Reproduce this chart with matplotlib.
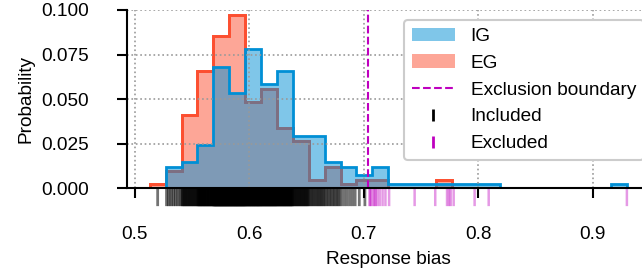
import numpy as np
import matplotlib
matplotlib.use("Agg")
from matplotlib import pyplot as plt
from matplotlib.patches import Patch
from matplotlib.lines import Line2D

plt.rcParams['font.family'] = ['Liberation Sans', 'DejaVu Sans']
plt.rcParams['font.size'] = 13.7

# range of response bias over all participants, split in 30 bins
bias_min = 0.5131
bias_max = 0.9299
n_bins = 30
boundary = 0.7035

# participants per bin (probability * 411 participants)
ig_counts = [0, 5, 6, 10, 28, 22, 32, 24, 27, 12, 12, 6, 5, 3, 5,
             1, 1, 1, 1, 1, 1, 1, 0, 0, 0, 0, 0, 0, 0, 1]
eg_counts = [1, 4, 17, 27, 35, 40, 20, 23, 14, 11, 2, 5, 1, 2, 2,
             0, 0, 0, 2, 0, 0, 0, 0, 0, 0, 0, 0, 0, 0, 0]

# excluded participants (right of the boundary)
excluded = [0.7050, 0.7058, 0.7066, 0.7085, 0.7095, 0.7105, 0.7120, 0.7140,
            0.7165, 0.7190, 0.7222, 0.7445, 0.7625, 0.7728, 0.7745, 0.7760,
            0.7786, 0.7969, 0.8092, 0.9299]

blue = '#008fd5'
red = '#fc4f30'
mag = 'm'

edges = np.linspace(bias_min, bias_max, n_bins + 1)
ig = np.array(ig_counts)
eg = np.array(eg_counts)
total = ig.sum() + eg.sum()

# included rug: single values can't be read, so spread each bin's count inside the bin
n_inc = ig + eg - np.histogram(excluded, edges)[0]
included = []
for i in range(n_bins):
    hi = min(edges[i + 1], boundary)
    for k in range(n_inc[i]):
        included.append(edges[i] + (k + 0.5) / n_inc[i] * (hi - edges[i]))

fig = plt.figure(figsize=(6.42, 2.78), dpi=100)
ax = fig.add_axes([126.7 / 642, 1 - 188.3 / 278, 524 / 642, 178.3 / 278])

ax.stairs(eg / total, edges, fill=True, facecolor=(252/255, 79/255, 48/255, 0.5),
          edgecolor=red, lw=2)
ax.stairs(eg / total, edges, color=red, lw=2)
ax.stairs(ig / total, edges, fill=True, facecolor=(0, 143/255, 213/255, 0.5),
          edgecolor='none', lw=0)
ax.stairs(ig / total, edges, color=blue, lw=2)

ax.axvline(boundary, color=mag, ls='--', lw=1.5)

trans = ax.get_xaxis_transform()
rug_in = ax.vlines(included, 0, -0.1, transform=trans, clip_on=False, colors='k', alpha=0.55, lw=2)
rug_ex = ax.vlines(excluded, 0, -0.1, transform=trans, clip_on=False, colors=mag, alpha=0.4, lw=1.8)
rug_in.set_snap(False)
rug_ex.set_snap(False)

ax.set_xlim(0.4930, 0.9507)
ax.set_ylim(0, 0.1)
ax.set_xticks([0.5, 0.6, 0.7, 0.8, 0.9])
ax.set_yticks([0, 0.025, 0.05, 0.075, 0.1])
ax.set_yticklabels(['0.000', '0.025', '0.050', '0.075', '0.100'])
ax.grid(ls=':', color='0.6', lw=1.2)
ax.tick_params(length=7, width=1.5, pad=20)
for s in ['top', 'right']:
    ax.spines[s].set_visible(False)
for s in ['left', 'bottom']:
    ax.spines[s].set_linewidth(1.5)
ax.set_xlabel("Response bias", labelpad=6)
ax.set_ylabel("Probability", labelpad=5)

handles = [Patch(facecolor=(0, 143/255, 213/255, 0.5), edgecolor='none', label='IG'),
           Patch(facecolor=(252/255, 79/255, 48/255, 0.5), edgecolor='none', label='EG'),
           Line2D([], [], color=mag, ls='--', lw=1.5, label='Exclusion boundary'),
           Line2D([], [], color='k', ls='none', marker='|', ms=9, mew=2, label='Included'),
           Line2D([], [], color=mag, ls='none', marker='|', ms=9, mew=2, label='Excluded')]
leg = ax.legend(handles=handles, loc='upper left', bbox_to_anchor=(404 / 642, 1 - 20 / 278),
                bbox_transform=fig.transFigure, borderaxespad=0, framealpha=1,
                edgecolor='#cccccc', handlelength=2.3, handletextpad=0.8, labelspacing=0.5)
leg.get_frame().set_linewidth(1.5)

fig.savefig("out.png", dpi=100)
